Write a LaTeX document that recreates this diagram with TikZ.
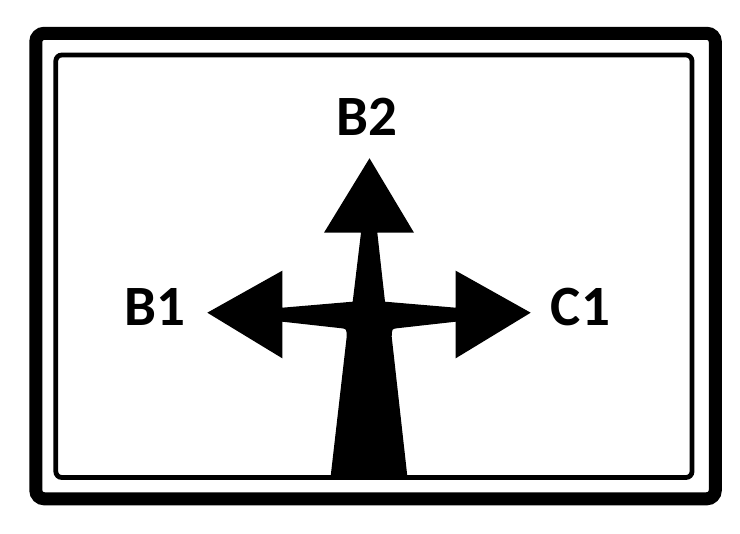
\documentclass[tikz,border=0pt]{standalone}
\usepackage{fontspec}
\setmainfont{Carlito}
\begin{document}
\begin{tikzpicture}[
        x=1pt, y=-1pt,
        outerframe/.style={draw=black, line width=13pt, rounded corners=8.5pt},
        innerframe/.style={draw=black, line width=4.8pt, rounded corners=6pt},
        sign/.style={fill=black, draw=none},
        dest/.style={inner sep=0pt, font=\fontsize{57}{60}\selectfont\bfseries}
    ]
        \useasboundingbox (0,0) rectangle (740,534);

        % Frames
        \draw[outerframe] (35.8,33.3) rectangle (715.3,498.8);
        \draw[innerframe] (55.8,55) rectangle (692,477.5);

        % Arrow sign
        \fill[sign] (369.5,158.3) -- (414,232.7) -- (377.3,232.7) -- (385,301.7)
            -- (455.7,307.7) -- (455.7,270.7) -- (530.7,312.7) -- (455.7,358.3)
            -- (455.7,321.7) -- (396.7,328.3)
            .. controls (392,329) .. (391.7,336.7)
            -- (407.3,476) -- (330.7,476) -- (346.7,336.7)
            .. controls (346.5,329) .. (341.7,328.3)
            -- (282.3,321.7) -- (282.3,358.3) -- (207.3,312.7) -- (282.3,270.7)
            -- (282.3,307.7) -- (352.7,301.7) -- (361,232.7) -- (324,232.7) -- cycle;

        % Labels
        \node[dest] (B2) at (367,116.7) {B2};
        \node[dest] (B1) at (155.3,306.7) {B1};
        \node[dest] (C1) at (580.5,306.7) {C1};

    \end{tikzpicture}
\end{document}
